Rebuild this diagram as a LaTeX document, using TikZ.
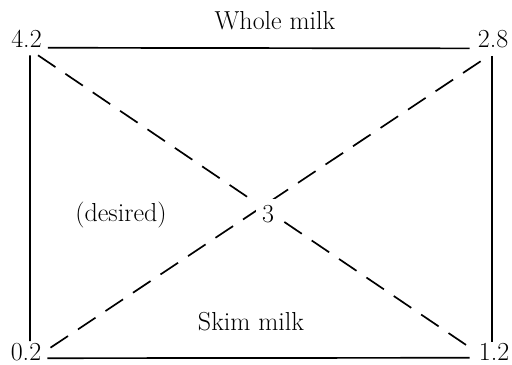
\documentclass[tikz,border=0pt]{standalone}
\usepackage{tikz}

\begin{document}
\begin{tikzpicture}[x=0.025cm,y=0.025cm,
  every node/.style={font=\fontsize{18.5}{22}\selectfont,inner sep=0pt},
  solidline/.style={line width=1.2pt},
  dashline/.style={line width=1.2pt,dash pattern=on 15pt off 8.5pt}]
\useasboundingbox (0,0) rectangle (512,365);
% 节点定义
\node[anchor=base] (n42) at (26.5,317.5) {4.2};
\node[anchor=base] (n28) at (493,317.3) {2.8};
\node[anchor=base] (n02) at (26,4) {0.2};
\node[anchor=base] (n12) at (494,4) {1.2};
\node[anchor=base] (whole) at (275,335) {Whole milk};
\node[anchor=base] (skim) at (251,34) {Skim milk};
\node[anchor=base] (desired) at (121,143.3) {(desired)};
% 连线
\draw[solidline] ([shift={(6,0)}]n42.south east) -- ([shift={(-8,0)}]n28.south west);
\draw[solidline] ([shift={(6,3.5)}]n02.south east) -- ([shift={(-9,3.5)}]n12.south west);
\draw[solidline] ([shift={(3.5,-7.5)}]n42.south) -- ([shift={(4,20.5)}]n02.south);
\draw[solidline] ([shift={(-1,-7.5)}]n28.south) -- ([shift={(-2,19.5)}]n12.south);
\draw[dashline] ([shift={(11.5,-7.5)}]n42.south) -- ([shift={(-9,14)}]n12.south west);
\draw[dashline] ([shift={(9,14)}]n02.south east) -- ([shift={(-7,-9.3)}]n28.south);
% 中间的 3
\node[anchor=base,fill=white,inner sep=4.5pt] (n3) at (268,142) {3};
\end{tikzpicture}
\end{document}
